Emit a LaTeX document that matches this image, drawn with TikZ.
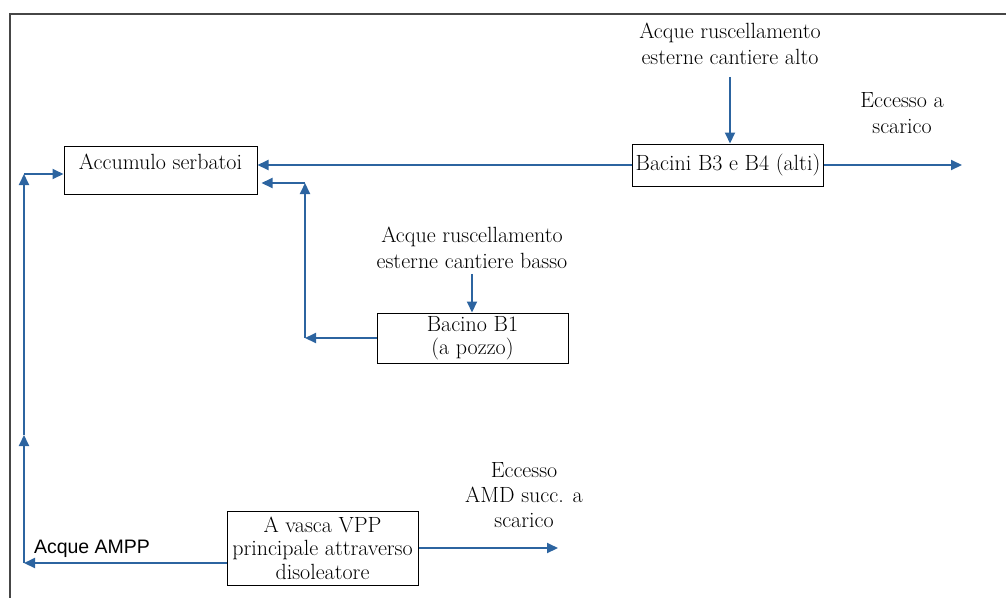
\documentclass[tikz,border=0pt]{standalone}
\usepackage{fontspec}
\newfontfamily\labsans{Liberation Sans}
\usetikzlibrary{arrows.meta}
\definecolor{flowblue}{RGB}{44,100,160}
\definecolor{framegray}{RGB}{70,70,70}
\tikzset{
  box/.style={draw=black, line width=1pt, inner sep=0pt, align=center, font=\fontsize{22}{23.5}\selectfont},
  lab/.style={inner sep=0pt, align=center, font=\fontsize{22}{25.5}\selectfont},
  arr/.style={draw=flowblue, line width=2pt, -{Triangle[length=11pt,width=10pt]}},
}
\begin{document}
\begin{tikzpicture}[x=1pt, y=-1pt]
\useasboundingbox (0,0) rectangle (1006,598);
% frame
\draw[framegray, line width=2pt] (1006,14) -- (9.5,14) -- (9.5,598);
% nodes
\node[box, minimum width=193pt, text height=23pt, text depth=25pt] (acc) at (160.5,170) {Accumulo serbatoi};
\node[box, minimum width=191pt, text height=26pt, text depth=16pt] (bac) at (728,165) {Bacini B3 e B4 (alti)};
\node[box, minimum width=191pt, minimum height=50pt] (b1) at (472.5,338) {Bacino B1\\(a pozzo)};
\node[box, minimum width=191pt, minimum height=74pt] (vpp) at (322.5,548) {A vasca VPP\\principale attraverso\\disoleatore};
\node[lab] (ralto) at (730,44) {Acque ruscellamento\\esterne cantiere alto};
\node[lab] (rbasso) at (472,248) {Acque ruscellamento\\esterne cantiere basso};
\node[lab] (ecc1) at (902,113) {Eccesso a\\scarico};
\node[lab, font=\fontsize{22}{25}\selectfont] (ecc2) at (524,495) {Eccesso\\AMD succ. a\\scarico};
\node[inner sep=0pt, font=\labsans\fontsize{19.5}{24}\selectfont] (ampp) at (92,549) {Acque AMPP};
% coordinates
\coordinate (ex1) at (962,165);
\coordinate (ex2) at (558,548);
\coordinate (c1) at (24,563);
\coordinate (c2) at (24,435);
\coordinate (c3) at (24,174);
\coordinate (d1) at (305,338);
\coordinate (d2) at (305,183);
% connectors
\draw[arr] (bac.west) -- (bac.west -| acc.east);
\draw[arr] (bac.east) -- (ex1);
\draw[arr, shorten <=12pt] (ralto.south) -- (ralto.south |- bac.north);
\draw[arr, shorten <=5pt] (rbasso.south) -- (rbasso.south |- b1.north);
\draw[arr] (b1.west) -- (d1);
\draw[arr] (d1) -- (d2);
\draw[arr, shorten >=4pt] (d2) -- (d2 -| acc.east);
\draw[arr] (vpp.west |- c1) -- (c1);
\draw[arr] (c1) -- (c2);
\draw[arr] (c2) -- (c3);
\draw[arr] (c3) -- (c3 -| acc.west);
\draw[arr] (vpp.east) -- (ex2);
\end{tikzpicture}
\end{document}
